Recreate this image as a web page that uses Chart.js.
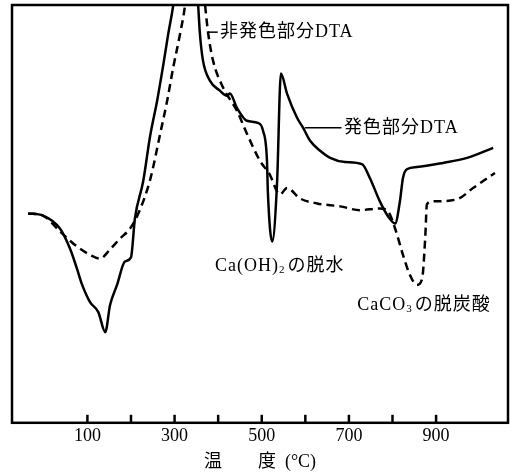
<!DOCTYPE html>
<html lang="ja">
<head>
  <meta charset="UTF-8" />
  <title>DTA 発色部分 / 非発色部分</title>
  <script src="https://cdn.jsdelivr.net/npm/chart.js"></script>
  <style>
    html, body { margin: 0; padding: 0; background: #fff; }
  </style>
</head>
<body>
  <canvas id="dtaChart" width="511" height="474"></canvas>

  <script>
    // 発色部分 DTA (solid)
    const tempColored = [-36, -2, 37, 60, 76, 88, 106, 125, 141, 152, 168, 186, 200, 209, 228, 244, 260, 274, 285, 297,
      326, 354, 358, 365, 381, 404, 420, 427, 443, 466, 491, 503, 512, 514, 524, 535, 544, 558, 581, 595,
      611, 634, 657, 691, 730, 748, 771, 790, 806, 817, 824, 833, 856, 916, 971, 1031];
    const dtaColored = [50.1, 49.6, 46.5, 41.7, 36.9, 33.0, 28.9, 26.5, 21.7, 28.2, 33.0, 38.6, 39.6, 48.9, 57.8, 68.7, 77.1, 85.6, 92.8, 100,
      125, 100, 93.3, 86.8, 81.9, 79.5, 78.3, 78.8, 75.4, 72.3, 71.8, 69.9, 62.7, 55.4, 43.4, 57.1, 83.6, 78.8, 73.0, 70.6,
      67.5, 65.1, 63.4, 62.4, 61.9, 58.6, 53.0, 49.4, 47.7, 53.0, 58.6, 60.7, 61.2, 62.2, 63.4, 65.8];

    // 非発色部分 DTA (dashed)
    const tempPlain = [-36, -2, 37, 76, 106, 129, 152, 175, 198, 216, 244, 267, 283, 297, 313, 324, 347, 370, 377, 388,
      411, 443, 466, 496, 519, 535, 542, 558, 588, 627, 680, 725, 771, 790, 806, 824, 840, 856, 868, 875,
      879, 893, 948, 985, 1035];
    const dtaPlain = [50.1, 49.6, 45.8, 42.2, 40.2, 39.3, 41.5, 44.1, 46.5, 49.9, 58.2, 69.2, 77.1, 85.1, 93.3, 100, 125, 100, 93.3, 86.8,
      80.3, 74.7, 69.2, 62.7, 59.3, 55.4, 54.7, 56.2, 53.7, 52.5, 51.8, 50.9, 51.3, 50.6, 46.5, 40.2, 35.4, 33.0, 34.5, 44.1,
      52.3, 53.0, 53.5, 56.2, 59.8];

    const tickTemps = [100, 200, 300, 400, 500, 600, 700, 800, 900];
    const labeledTemps = [100, 300, 500, 700, 900];
    const xTitle = '温　　度  (°C)';

    const SERIF = '"Liberation Serif", "Noto Sans CJK JP", serif';

    // callouts: anchor in data units, text parts ([text, isSubscript])
    const callouts = [
      { t: 404, v: 93.5, parts: [['非発色部分DTA', false]], lead: [377, 399] },
      { t: 689, v: 70.6, parts: [['発色部分DTA', false]], lead: [599, 683] },
      { t: 393, v: 37.4, parts: [['Ca(OH)', false], ['2', true], ['の脱水', false]] },
      { t: 719, v: 28.2, parts: [['CaCO', false], ['3', true], ['の脱炭酸', false]] }
    ];

    const toPoints = (xs, ys) => xs.map((x, i) => ({ x: x, y: ys[i] }));

    const framePlugin = {
      id: 'frame',
      afterDraw(chart) {
        const { ctx, chartArea: a, scales } = chart;
        ctx.save();
        ctx.strokeStyle = '#000';
        ctx.lineWidth = 2.5;
        ctx.strokeRect(a.left, a.top, a.right - a.left, a.bottom - a.top);

        // inward tick marks
        tickTemps.forEach(t => {
          const x = scales.x.getPixelForValue(t);
          ctx.beginPath();
          ctx.moveTo(x, a.bottom);
          ctx.lineTo(x, a.bottom - 8);
          ctx.stroke();
        });

        // callouts
        ctx.fillStyle = '#000';
        ctx.textBaseline = 'middle';
        ctx.letterSpacing = '1px';
        callouts.forEach(c => {
          const y = scales.y.getPixelForValue(c.v);
          if (c.lead) {
            ctx.lineWidth = 1.5;
            ctx.beginPath();
            ctx.moveTo(scales.x.getPixelForValue(c.lead[0]), y);
            ctx.lineTo(scales.x.getPixelForValue(c.lead[1]), y);
            ctx.stroke();
          }
          let x = scales.x.getPixelForValue(c.t);
          c.parts.forEach(([txt, sub]) => {
            ctx.font = sub ? '11px ' + SERIF : '18px ' + SERIF;
            ctx.fillText(txt, x, sub ? y + 4 : y);
            x += ctx.measureText(txt).width + (sub ? 2 : 0);
          });
        });
        ctx.restore();
      }
    };

    const ctx = document.getElementById('dtaChart').getContext('2d');
    new Chart(ctx, {
      type: 'line',
      data: {
        datasets: [
          {
            label: '発色部分DTA',
            data: toPoints(tempColored, dtaColored),
            borderColor: '#000',
            borderWidth: 2.5,
            fill: false,
            cubicInterpolationMode: 'monotone'
          },
          {
            label: '非発色部分DTA',
            data: toPoints(tempPlain, dtaPlain),
            borderColor: '#000',
            borderWidth: 2.5,
            borderDash: [8, 5],
            fill: false,
            cubicInterpolationMode: 'monotone'
          }
        ]
      },
      options: {
        responsive: false,
        animation: false,
        layout: { padding: { left: 12, right: 3, top: 5, bottom: 0 } },
        elements: { point: { radius: 0 } },
        plugins: {
          legend: { display: false },
          tooltip: { enabled: false }
        },
        scales: {
          x: {
            type: 'linear',
            min: -73,
            max: 1065,
            afterBuildTicks: scale => { scale.ticks = tickTemps.map(v => ({ value: v })); },
            grid: { display: false, drawTicks: false },
            border: { display: false },
            ticks: {
              padding: 3,
              color: '#000',
              autoSkip: false,
              maxRotation: 0,
              font: { family: SERIF, size: 18 },
              callback: v => labeledTemps.includes(v) ? String(v) : ''
            },
            title: {
              display: true,
              text: xTitle,
              color: '#000',
              font: { family: SERIF, size: 18 },
              padding: { top: 1, bottom: 1 }
            }
          },
          y: { display: false, min: 0, max: 100 }
        }
      },
      plugins: [framePlugin]
    });
  </script>
</body>
</html>
